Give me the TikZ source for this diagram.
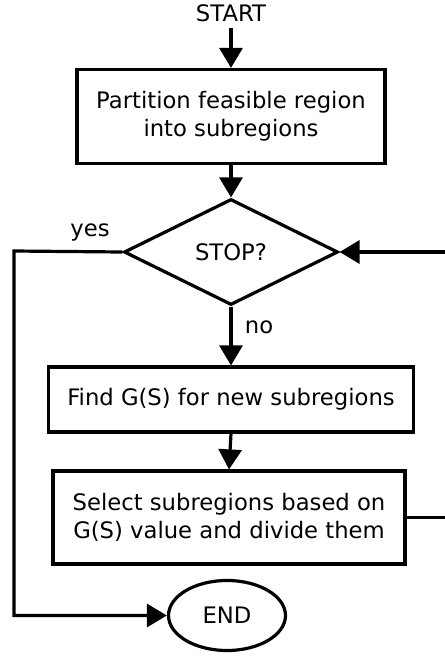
\documentclass[tikz,border=0pt]{standalone}
\usepackage{fontspec}
\setmainfont{DejaVu Sans}
\usetikzlibrary{shapes.geometric,arrows.meta}
\begin{document}
\begin{tikzpicture}[x=1pt,y=-1pt,
  every node/.style={font=\fontsize{22.7}{27.7}\selectfont},
  box/.style={draw,line width=3.2pt,rectangle,align=center,inner sep=0pt},
  decision/.style={draw,line width=3.2pt,diamond,inner sep=0pt,minimum width=214pt,minimum height=106pt},
  term/.style={draw,line width=3.2pt,ellipse,inner sep=0pt,minimum width=117pt,minimum height=70pt},
  lbl/.style={inner sep=0pt},
  arr/.style={line width=3.2pt,-{Triangle[length=20pt,width=23pt]}},
  ln/.style={line width=3.2pt}]
\useasboundingbox (0,0) rectangle (445,657);
\clip (0,0) rectangle (445,657);
\node[lbl,inner sep=6pt] (start) at (231,13.5) {START};
\node[box,minimum width=308pt,minimum height=94pt] (p) at (231,116.5) {Partition feasible region\\into subregions};
\node[decision] (d) at (231,252) {STOP?};
\node[box,minimum width=365pt,minimum height=65pt] (f) at (231,399.5) {Find G(S) for new subregions};
\node[box,minimum width=352pt,minimum height=93pt] (s) at (229,517.5) {Select subregions based on\\G(S) value and divide them};
\node[term] (e) at (227,615.5) {END};
\node[lbl,anchor=base] (yes) at (90,236) {yes};
\node[lbl,anchor=base] (no) at (259,333) {no};
\coordinate (yc) at (14,251);
\coordinate (r1) at (446,517.5);
\coordinate (r2) at (446,252);
\draw[arr] (start.south) -- (p.north);
\draw[arr] (p.south) -- (d.north);
\draw[arr] (d.south) -- (f.north);
\draw[arr] (f.south) -- (s.north);
\draw[arr] (d.west) -- (yc) |- (e.west);
\draw[ln] (s.east) -- (r1);
\draw[arr] (r2) -- (d.east);
\end{tikzpicture}
\end{document}
